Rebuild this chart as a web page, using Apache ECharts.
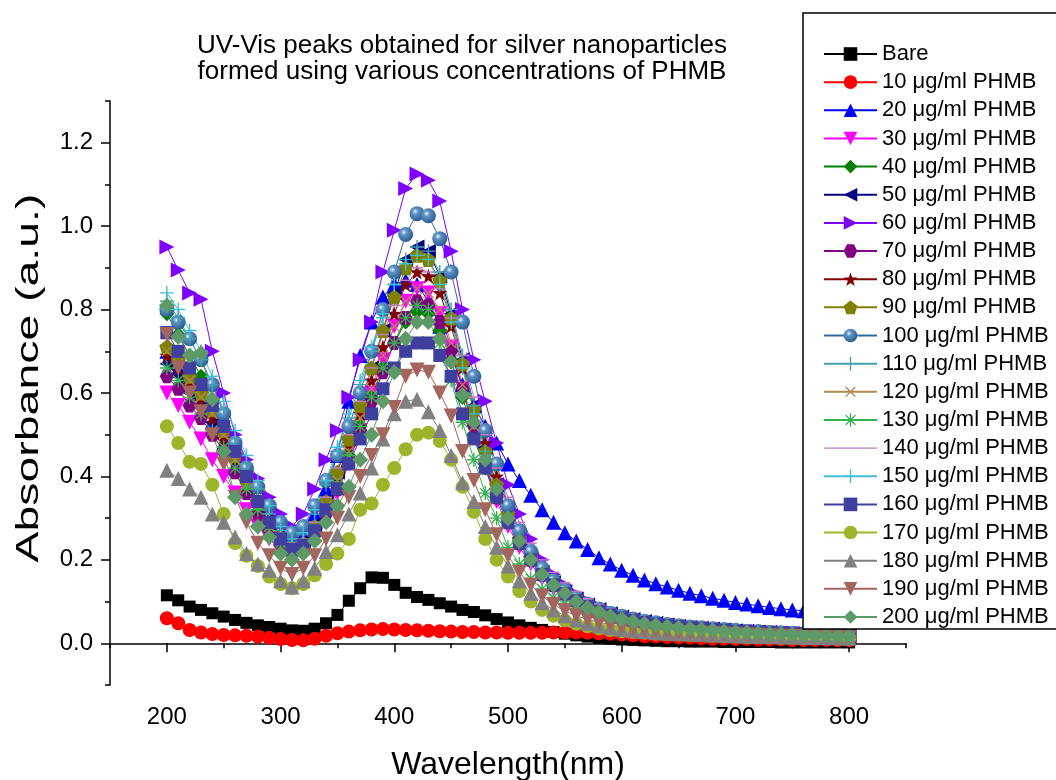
<!DOCTYPE html>
<html><head><meta charset="utf-8">
<script src="https://cdn.jsdelivr.net/npm/echarts@6/dist/echarts.min.js"></script>
<style>html,body{margin:0;padding:0;background:#fff}#c{width:1056px;height:780px}</style>
</head><body><div id="c"></div>
<script>
// ---------- data ----------
const wavelengths = [200,210,220,230,240,250,260,270,280,290,
  300,310,320,330,340,350,360,370,380,390,
  400,410,420,430,440,450,460,470,480,490,
  500,510,520,530,540,550,560,570,580,590,
  600,610,620,630,640,650,660,670,680,690,
  700,710,720,730,740,750,760,770,780,790,800];
const xTickLabels = [200,300,400,500,600,700,800];
const xMinorTicks = [150,250,350,450,550,650,750,850];
const yTickLabels = [0,0.2,0.4,0.6,0.8,1.0,1.2];
const yMinorTicks = [-0.1,0.1,0.3,0.5,0.7,0.9,1.1,1.3];
const seriesNames = ['Bare','10 μg/ml PHMB','20 μg/ml PHMB','30 μg/ml PHMB','40 μg/ml PHMB','50 μg/ml PHMB',
  '60 μg/ml PHMB','70 μg/ml PHMB','80 μg/ml PHMB','90 μg/ml PHMB','100 μg/ml PHMB','110 μg/ml PHMB',
  '120 μg/ml PHMB','130 μg/ml PHMB','140 μg/ml PHMB','150 μg/ml PHMB','160 μg/ml PHMB','170 μg/ml PHMB',
  '180 μg/ml PHMB','190 μg/ml PHMB','200 μg/ml PHMB'];

const bare = [0.115,0.103,0.088,0.080,0.072,0.064,0.056,0.049,0.043,0.039,
  0.035,0.031,0.030,0.035,0.048,0.068,0.102,0.132,0.158,0.157,
  0.140,0.121,0.111,0.104,0.096,0.088,0.080,0.075,0.067,0.058,
  0.050,0.043,0.037,0.032,0.027,0.023,0.019,0.016,0.013,0.011,
  0.009,0.008,0.007,0.006,0.005,0.005,0.004,0.004,0.004,0.003,
  0.003,0.003,0.003,0.003,0.002,0.002,0.002,0.002,0.002,0.002,0.002];
const p10 = [0.060,0.048,0.032,0.026,0.022,0.020,0.019,0.018,0.016,0.013,
  0.010,0.008,0.007,0.011,0.018,0.024,0.028,0.031,0.033,0.034,
  0.033,0.032,0.031,0.030,0.029,0.028,0.027,0.027,0.026,0.026,
  0.025,0.025,0.025,0.025,0.026,0.026,0.026,0.025,0.024,0.023,
  0.021,0.019,0.017,0.016,0.015,0.014,0.013,0.012,0.011,0.011,
  0.010,0.010,0.009,0.009,0.009,0.008,0.008,0.008,0.008,0.007,0.007];
const p20 = [0.70,0.66,0.62,0.58,0.53,0.48,0.42,0.37,0.33,0.29,
  0.26,0.245,0.26,0.31,0.37,0.45,0.58,0.69,0.77,0.83,
  0.86,0.87,0.86,0.82,0.76,0.69,0.62,0.57,0.52,0.48,
  0.43,0.39,0.355,0.32,0.29,0.265,0.245,0.225,0.205,0.19,
  0.175,0.163,0.152,0.143,0.135,0.127,0.120,0.114,0.108,0.103,
  0.098,0.094,0.090,0.086,0.083,0.080,0.078,0.076,0.074,0.072,0.070];
const p30 = [0.60,0.57,0.53,0.49,0.44,0.40,0.36,0.32,0.28,0.25,
  0.22,0.205,0.215,0.25,0.30,0.36,0.43,0.51,0.60,0.68,
  0.76,0.82,0.85,0.84,0.79,0.71,0.61,0.51,0.42,0.34,
  0.28,0.23,0.19,0.155,0.13,0.11,0.095,0.082,0.072,0.064,
  0.057,0.052,0.048,0.044,0.041,0.038,0.036,0.034,0.032,0.030,
  0.028,0.027,0.025,0.024,0.023,0.022,0.021,0.020,0.019,0.018,0.017];
const p40 = [0.79,0.74,0.69,0.64,0.58,0.52,0.45,0.39,0.34,0.29,
  0.25,0.225,0.235,0.27,0.32,0.38,0.45,0.52,0.59,0.66,
  0.72,0.77,0.795,0.79,0.75,0.68,0.59,0.50,0.42,0.35,
  0.29,0.24,0.20,0.165,0.14,0.12,0.10,0.087,0.076,0.067,
  0.060,0.054,0.049,0.045,0.042,0.039,0.037,0.035,0.033,0.031,
  0.029,0.028,0.026,0.025,0.024,0.023,0.022,0.021,0.020,0.019,0.018];
const p50 = [0.67,0.64,0.60,0.57,0.53,0.49,0.44,0.39,0.34,0.30,
  0.26,0.235,0.245,0.285,0.34,0.41,0.49,0.57,0.66,0.75,
  0.84,0.92,0.95,0.94,0.88,0.79,0.68,0.57,0.47,0.38,
  0.31,0.25,0.205,0.17,0.145,0.123,0.106,0.092,0.081,0.071,
  0.063,0.057,0.052,0.048,0.044,0.041,0.038,0.036,0.034,0.032,
  0.030,0.028,0.027,0.026,0.024,0.023,0.022,0.021,0.020,0.019,0.018];
const p60 = [0.95,0.895,0.84,0.825,0.70,0.60,0.50,0.44,0.395,0.35,
  0.31,0.28,0.31,0.37,0.44,0.51,0.59,0.68,0.77,0.89,
  0.99,1.09,1.125,1.11,1.06,0.94,0.80,0.68,0.58,0.48,
  0.38,0.31,0.25,0.20,0.165,0.14,0.118,0.101,0.088,0.077,
  0.068,0.061,0.055,0.050,0.046,0.043,0.040,0.037,0.035,0.033,
  0.031,0.029,0.028,0.026,0.025,0.024,0.023,0.022,0.021,0.020,0.019];
const p70 = [0.64,0.61,0.57,0.54,0.50,0.46,0.41,0.36,0.31,0.27,
  0.235,0.215,0.225,0.26,0.31,0.37,0.44,0.51,0.58,0.65,
  0.72,0.78,0.82,0.81,0.77,0.70,0.61,0.52,0.43,0.35,
  0.29,0.24,0.20,0.165,0.14,0.12,0.103,0.089,0.078,0.069,
  0.061,0.055,0.050,0.046,0.043,0.040,0.037,0.035,0.033,0.031,
  0.029,0.028,0.026,0.025,0.024,0.023,0.022,0.021,0.020,0.019,0.018];
const p80 = [0.69,0.66,0.62,0.58,0.54,0.49,0.44,0.38,0.33,0.29,
  0.25,0.225,0.235,0.275,0.33,0.40,0.47,0.55,0.63,0.71,
  0.79,0.86,0.89,0.88,0.84,0.76,0.66,0.56,0.48,0.40,
  0.33,0.27,0.22,0.18,0.15,0.127,0.108,0.093,0.081,0.071,
  0.063,0.057,0.052,0.048,0.044,0.041,0.038,0.036,0.034,0.032,
  0.030,0.028,0.027,0.026,0.024,0.023,0.022,0.021,0.020,0.019,0.018];
const p90 = [0.71,0.68,0.64,0.60,0.56,0.51,0.45,0.39,0.34,0.29,
  0.255,0.23,0.24,0.28,0.34,0.41,0.49,0.57,0.66,0.75,
  0.83,0.90,0.93,0.92,0.87,0.78,0.67,0.56,0.46,0.38,
  0.31,0.25,0.205,0.17,0.143,0.121,0.104,0.090,0.079,0.070,
  0.062,0.056,0.051,0.047,0.043,0.040,0.038,0.035,0.033,0.031,
  0.029,0.028,0.026,0.025,0.024,0.023,0.022,0.021,0.020,0.019,0.018];
const p100 = [0.80,0.77,0.73,0.68,0.62,0.55,0.48,0.42,0.375,0.33,
  0.29,0.265,0.28,0.33,0.39,0.45,0.52,0.60,0.70,0.80,
  0.89,0.98,1.03,1.025,0.97,0.89,0.77,0.64,0.51,0.43,
  0.33,0.27,0.22,0.18,0.15,0.127,0.109,0.094,0.082,0.072,
  0.065,0.058,0.053,0.049,0.045,0.042,0.039,0.037,0.035,0.033,
  0.031,0.029,0.028,0.026,0.025,0.024,0.023,0.022,0.021,0.020,0.019];
const p110 = [0.82,0.78,0.73,0.68,0.62,0.56,0.49,0.43,0.37,0.31,
  0.27,0.245,0.26,0.31,0.38,0.46,0.54,0.62,0.70,0.78,
  0.86,0.92,0.95,0.94,0.89,0.80,0.69,0.57,0.46,0.37,
  0.30,0.245,0.20,0.165,0.14,0.119,0.102,0.088,0.077,0.068,
  0.061,0.055,0.050,0.046,0.043,0.040,0.037,0.035,0.033,0.031,
  0.029,0.028,0.026,0.025,0.024,0.023,0.022,0.021,0.020,0.019,0.018];
const p120 = [0.70,0.67,0.63,0.59,0.55,0.50,0.44,0.38,0.33,0.28,
  0.245,0.225,0.235,0.27,0.33,0.39,0.46,0.54,0.61,0.69,
  0.76,0.82,0.85,0.84,0.80,0.72,0.62,0.52,0.43,0.36,
  0.29,0.24,0.20,0.165,0.14,0.119,0.102,0.088,0.077,0.068,
  0.061,0.055,0.050,0.046,0.043,0.040,0.037,0.035,0.033,0.031,
  0.029,0.028,0.026,0.025,0.024,0.023,0.022,0.021,0.020,0.019,0.018];
const p130 = [0.66,0.63,0.59,0.55,0.51,0.47,0.42,0.37,0.32,0.28,
  0.24,0.22,0.23,0.265,0.32,0.38,0.45,0.52,0.59,0.66,
  0.72,0.78,0.81,0.80,0.72,0.63,0.53,0.44,0.36,0.30,
  0.23,0.19,0.155,0.13,0.11,0.095,0.083,0.073,0.065,0.058,
  0.052,0.048,0.044,0.041,0.038,0.036,0.034,0.032,0.030,0.029,
  0.027,0.026,0.025,0.024,0.023,0.022,0.021,0.020,0.019,0.018,0.017];
const p140 = [0.73,0.70,0.66,0.62,0.58,0.53,0.47,0.41,0.35,0.30,
  0.26,0.24,0.25,0.29,0.35,0.42,0.50,0.58,0.66,0.74,
  0.81,0.87,0.90,0.89,0.85,0.78,0.69,0.59,0.50,0.42,
  0.35,0.29,0.24,0.20,0.17,0.145,0.124,0.107,0.093,0.082,
  0.072,0.065,0.059,0.054,0.050,0.046,0.043,0.040,0.038,0.036,
  0.034,0.032,0.030,0.029,0.027,0.026,0.025,0.024,0.023,0.022,0.021];
const p150 = [0.84,0.80,0.75,0.70,0.64,0.58,0.51,0.45,0.39,0.33,
  0.28,0.25,0.265,0.32,0.39,0.47,0.55,0.63,0.71,0.79,
  0.86,0.91,0.93,0.92,0.86,0.77,0.66,0.55,0.45,0.36,
  0.29,0.24,0.195,0.16,0.135,0.115,0.099,0.086,0.076,0.067,
  0.060,0.054,0.049,0.045,0.042,0.039,0.036,0.034,0.032,0.030,
  0.028,0.027,0.025,0.024,0.023,0.022,0.021,0.020,0.019,0.018,0.017];
const p160 = [0.745,0.70,0.66,0.62,0.57,0.52,0.46,0.40,0.34,0.29,
  0.25,0.225,0.235,0.27,0.32,0.37,0.43,0.49,0.55,0.61,
  0.66,0.70,0.72,0.72,0.69,0.64,0.55,0.49,0.42,0.35,
  0.29,0.24,0.20,0.165,0.14,0.119,0.102,0.088,0.077,0.068,
  0.061,0.055,0.050,0.046,0.043,0.040,0.037,0.035,0.033,0.031,
  0.029,0.028,0.026,0.025,0.024,0.023,0.022,0.021,0.020,0.019,0.018];
const p170 = [0.52,0.48,0.435,0.43,0.38,0.31,0.24,0.21,0.185,0.16,
  0.142,0.132,0.142,0.163,0.19,0.215,0.25,0.32,0.335,0.38,
  0.42,0.465,0.50,0.505,0.485,0.44,0.375,0.315,0.25,0.20,
  0.16,0.125,0.10,0.08,0.066,0.055,0.047,0.041,0.036,0.032,
  0.029,0.027,0.025,0.023,0.022,0.021,0.020,0.019,0.018,0.017,
  0.016,0.015,0.015,0.014,0.014,0.013,0.013,0.012,0.012,0.011,0.011];
const p180 = [0.415,0.395,0.37,0.35,0.31,0.29,0.255,0.215,0.19,0.175,
  0.15,0.135,0.15,0.18,0.22,0.26,0.31,0.36,0.42,0.49,
  0.55,0.58,0.585,0.555,0.51,0.45,0.385,0.34,0.28,0.23,
  0.185,0.15,0.12,0.097,0.08,0.066,0.056,0.048,0.042,0.037,
  0.033,0.030,0.028,0.026,0.024,0.023,0.022,0.021,0.020,0.019,
  0.018,0.017,0.016,0.016,0.015,0.015,0.014,0.014,0.013,0.013,0.012];
const p190 = [0.74,0.66,0.60,0.555,0.50,0.43,0.35,0.29,0.24,0.21,
  0.18,0.165,0.18,0.21,0.25,0.30,0.35,0.40,0.45,0.50,
  0.565,0.64,0.655,0.65,0.60,0.545,0.46,0.39,0.32,0.26,
  0.21,0.17,0.14,0.113,0.093,0.078,0.066,0.057,0.050,0.044,
  0.039,0.035,0.032,0.030,0.028,0.026,0.025,0.024,0.023,0.022,
  0.021,0.020,0.019,0.018,0.017,0.017,0.016,0.015,0.015,0.014,0.013];
const p200 = [0.81,0.735,0.69,0.695,0.585,0.46,0.35,0.31,0.28,0.255,
  0.215,0.20,0.215,0.245,0.29,0.33,0.375,0.44,0.50,0.58,
  0.65,0.73,0.77,0.77,0.73,0.675,0.595,0.53,0.44,0.37,
  0.30,0.245,0.20,0.165,0.14,0.12,0.10,0.085,0.075,0.065,
  0.058,0.052,0.047,0.043,0.040,0.037,0.035,0.033,0.031,0.029,
  0.027,0.026,0.024,0.023,0.022,0.021,0.020,0.019,0.018,0.017,0.016];

const seriesValues = [bare,p10,p20,p30,p40,p50,p60,p70,p80,p90,p100,p110,p120,p130,p140,p150,p160,p170,p180,p190,p200];

// ---------- styles ----------
const PLUS = 'path://M-1,-10 L1,-10 L1,-1 L10,-1 L10,1 L1,1 L1,10 L-1,10 L-1,1 L-10,1 L-10,-1 L-1,-1 Z';
const ASTER = PLUS + ' M-7.8,-6.4 L-6.4,-7.8 L7.8,6.4 L6.4,7.8 Z M6.4,-7.8 L7.8,-6.4 L-6.4,7.8 L-7.8,6.4 Z';
const STAR = 'path://M0,-10 L2.35,-3.24 L9.51,-3.09 L3.80,1.24 L5.88,8.09 L0,4 L-5.88,8.09 L-3.80,1.24 L-9.51,-3.09 L-2.35,-3.24 Z';
const HEX = 'path://M-5,-8.66 L5,-8.66 L10,0 L5,8.66 L-5,8.66 L-10,0 Z';
const PENT = 'path://M0,-10 L9.51,-3.09 L5.88,8.09 L-5.88,8.09 L-9.51,-3.09 Z';
const sphere = {type:'radial', x:0.38, y:0.35, r:0.65, colorStops:[{offset:0,color:'#eef4fa'},{offset:0.3,color:'#5f93c6'},{offset:1,color:'#2b5f92'}]};

const styles = [
  {color:'#000000', symbol:'rect', size:12},
  {color:'#ff0000', symbol:'circle', size:14},
  {color:'#0000ff', symbol:'triangle', size:15},
  {color:'#ff00ff', symbol:'triangle', size:15, rotate:180},
  {color:'#008000', symbol:'diamond', size:15},
  {color:'#000080', symbol:'triangle', size:15, rotate:90},
  {color:'#8000ff', symbol:'triangle', size:15, rotate:-90},
  {color:'#800080', symbol:HEX, size:14},
  {color:'#800000', symbol:STAR, size:15},
  {color:'#808000', symbol:PENT, size:15},
  {color:'#336a9f', fill:sphere, symbol:'circle', size:15},
  {color:'#44a2b0', symbol:PLUS, size:14},
  {color:'#b08850', symbol:PLUS, size:14, rotate:45},
  {color:'#35b34f', symbol:ASTER, size:14},
  {color:'#c07ac0', symbol:'rect', size:[12,1.5]},
  {color:'#40c0d8', symbol:PLUS, size:14},
  {color:'#3f3f9f', symbol:'rect', size:13},
  {color:'#9db52a', symbol:'circle', size:14},
  {color:'#808080', symbol:'triangle', size:15},
  {color:'#a2665e', symbol:'triangle', size:15, rotate:180},
  {color:'#5e9a68', symbol:'diamond', size:16}
];

const FONT = 'Liberation Sans';
const series = seriesNames.map((name, k) => {
  const st = styles[k];
  return {
    name: name,
    type: 'line',
    data: wavelengths.map((w, i) => [w, seriesValues[k][i]]),
    symbol: st.symbol,
    symbolSize: st.size,
    symbolRotate: st.rotate || 0,
    showAllSymbol: true,
    lineStyle: {color: st.color, width: 1},
    itemStyle: {color: st.fill || st.color, borderWidth: 0},
    emphasis: {disabled: true},
    animation: false
  };
});

const legendData = seriesNames.map((n, k) => k === 14
  ? {name: n, icon: 'path://M0,6.4 L53,6.4 L53,7.6 L0,7.6 Z'}
  : {name: n});

const chart = echarts.init(document.getElementById('c'), null, {renderer:'canvas'});
chart.setOption({
  backgroundColor: '#ffffff',
  animation: false,
  textStyle: {fontFamily: FONT, color:'#000'},
  grid: {left: 110, top: 101, width: 796, height: 584, containLabel: false, outerBoundsMode: 'none'},
  xAxis: [{
    type:'value', min:150, max:850, position:'bottom',
    name:'Wavelength(nm)', nameLocation:'middle', nameGap:64,
    nameTextStyle:{fontSize:32, fontFamily:FONT, color:'#000'},
    axisLine:{show:true, lineStyle:{color:'#000', width:1.5}},
    axisTick:{show:true, inside:false, length:9, customValues:xTickLabels, lineStyle:{color:'#000', width:1.5}},
    axisLabel:{show:true, customValues:xTickLabels, margin:20, fontSize:24, fontFamily:FONT, color:'#000'},
    splitLine:{show:false}
  },{
    type:'value', min:150, max:850, position:'bottom',
    axisLine:{show:false},
    axisTick:{show:true, inside:false, length:5, customValues:xMinorTicks, lineStyle:{color:'#000', width:1.5}},
    axisLabel:{show:false},
    splitLine:{show:false}
  }],
  yAxis: [{
    type:'value', min:-0.1, max:1.3, position:'left',
    axisLine:{show:true, lineStyle:{color:'#000', width:1.5}},
    axisTick:{show:true, inside:false, length:9, customValues:yTickLabels, lineStyle:{color:'#000', width:1.5}},
    axisLabel:{show:true, customValues:yTickLabels, margin:17, fontSize:24, fontFamily:FONT, color:'#000',
      formatter: v => Number(v).toFixed(1)},
    splitLine:{show:false}
  },{
    type:'value', min:-0.1, max:1.3, position:'left',
    axisLine:{show:false},
    axisTick:{show:true, inside:false, length:5, customValues:yMinorTicks, lineStyle:{color:'#000', width:1.5}},
    axisLabel:{show:false},
    splitLine:{show:false}
  }],
  legend: {
    orient:'vertical', left:823, top:43, z:20,
    itemWidth:53, itemHeight:17, itemGap:6.15, padding:0,
    selectedMode:false,
    symbolKeepAspect:true,
    textStyle:{fontSize:22, fontFamily:FONT, color:'#000', lineHeight:22},
    data: legendData
  },
  graphic: [
    {type:'rect', z:15, shape:{x:803, y:13, width:270, height:616},
      style:{fill:'#fff', stroke:'#000', lineWidth:1.5}},
    {type:'text', z:15, x:462, y:59,
      style:{text:'UV-Vis peaks obtained for silver nanoparticles\nformed using various concentrations of PHMB',
        align:'center', verticalAlign:'middle', fontSize:26, lineHeight:26, fontFamily:FONT, fill:'#000'}},
    {type:'text', z:15, x:29, y:378, rotation:Math.PI/2, scaleX:1.45,
      style:{text:'Absorbance (a.u.)', align:'center', verticalAlign:'middle', fontSize:32, fontFamily:FONT, fill:'#000'}}
  ],
  series: series
});
</script>
</body></html>
